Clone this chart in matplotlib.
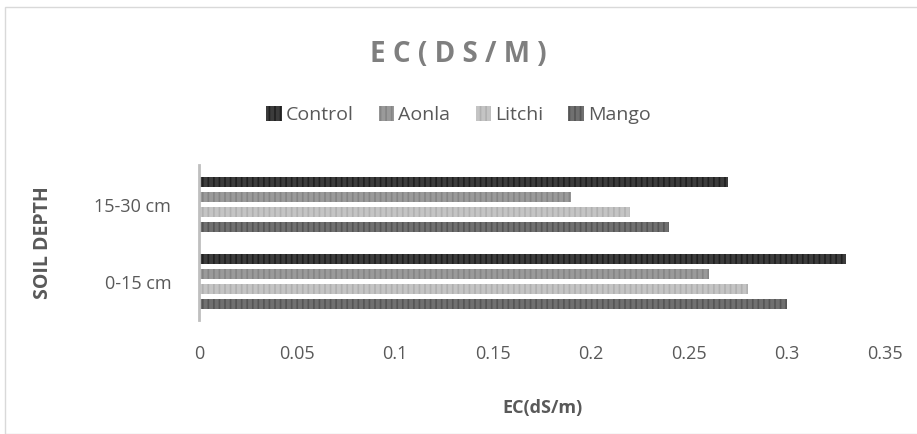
import matplotlib.pyplot as plt
import numpy as np
from matplotlib.patches import Rectangle

plt.rcParams['font.family'] = ['Open Sans', 'DejaVu Sans']
plt.rcParams['hatch.linewidth'] = 1.2

depths = ['0-15 cm', '15-30 cm']
series = ['Control', 'Aonla', 'Litchi', 'Mango']
control = [0.33, 0.27]
aonla = [0.26, 0.19]
litchi = [0.28, 0.22]
mango = [0.30, 0.24]
xticks = [0, 0.05, 0.1, 0.15, 0.2, 0.25, 0.3, 0.35]

values = [control, aonla, litchi, mango]
faces = ['#3c3c3c', '#9a9a9a', '#c4c4c4', '#707070']
hatches = ['#202020', '#858585', '#b0b0b0', '#555555']
offsets = [1.5, 0.5, -0.5, -1.5]
step = 0.195
bar_h = 0.13

fig = plt.figure(figsize=(9.17, 4.34), dpi=100)
fig.patches.append(Rectangle((5 / 917, 0), 1, 1 - 7 / 434, transform=fig.transFigure,
                             fill=False, edgecolor='#d9d9d9', linewidth=1))
ax = fig.add_axes([199 / 917, 1 - 320 / 434, (885 - 199) / 917, (320 - 165) / 434])

y = np.arange(len(depths))
for vals, name, fc, hc, off in zip(values, series, faces, hatches, offsets):
    ax.barh(y + off * step, vals, height=bar_h, color=fc, edgecolor=hc,
            hatch='|||', linewidth=0, label=name)

ax.set_xlim(0, 0.35)
ax.set_ylim(-0.5, 1.52)
ax.set_xticks(xticks)
ax.set_xticklabels([f'{t:g}' for t in xticks])
ax.set_yticks(y)
ax.set_yticklabels(depths)
ax.tick_params(length=0, labelsize=13, colors='#595959', pad=18)
ax.tick_params(axis='y', pad=20)
for s in ['top', 'right', 'bottom']:
    ax.spines[s].set_visible(False)
ax.spines['left'].set_color('#bfbfbf')
ax.spines['left'].set_linewidth(2)

ax.set_xlabel('EC(dS/m)', fontsize=13, fontweight='bold', color='#595959', labelpad=26)
ax.set_ylabel('SOIL DEPTH', fontsize=14, fontweight='bold', color='#595959', labelpad=30)

fig.text(0.5, 1 - 55 / 434, 'E C ( D S / M )', ha='center', va='center',
         fontsize=20, fontweight='bold', color='#7f7f7f')
fig.legend(loc='center', bbox_to_anchor=(0.5, 1 - 115 / 434), ncol=4, frameon=False,
           fontsize=14, labelcolor='#595959', handlelength=0.8, handleheight=0.8,
           handletextpad=0.2, columnspacing=1.3)

plt.savefig('out.png')
